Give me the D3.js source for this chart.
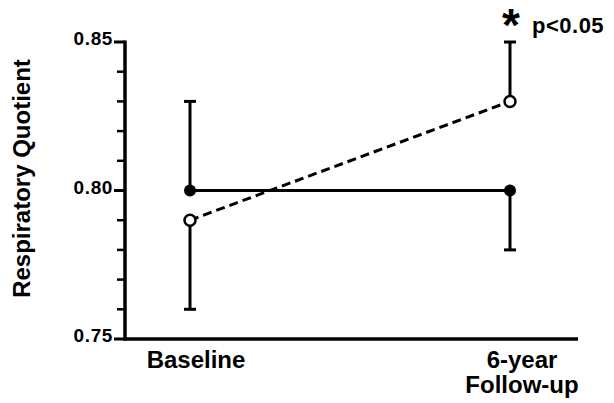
<!DOCTYPE html>
<html>
<head>
<meta charset="utf-8">
<script src="https://cdn.jsdelivr.net/npm/d3@7"></script>
<style>
  body { margin: 0; background: #fff; }
  svg { display: block; font-family: "Liberation Sans", Arial, sans-serif; font-weight: bold; }
</style>
</head>
<body>
<svg id="chart" width="614" height="403"></svg>
<script>
const categories = ["Baseline", "6-year Follow-up"];
const categoryLines = [["Baseline"], ["6-year", "Follow-up"]];

// solid line, filled markers
const groupA = [0.80, 0.80];
const groupAErr = [0.03, 0.02];
const groupADir = [1, -1];

// dashed line, open markers
const groupB = [0.79, 0.83];
const groupBErr = [0.03, 0.02];
const groupBDir = [-1, 1];

const yTicks = [0.75, 0.80, 0.85];
const yMinor = [0.76, 0.77, 0.78, 0.79, 0.81, 0.82, 0.83, 0.84];

const svg = d3.select("#chart");

const x = d3.scalePoint().domain(categories).range([190, 510]);
const y = d3.scaleLinear().domain([0.75, 0.85]).range([339, 42]);

const axisX0 = 125, axisX1 = 578;

// axes
svg.append("line")
  .attr("x1", axisX0).attr("x2", axisX0)
  .attr("y1", y(0.85) - 1.5).attr("y2", y(0.75) + 1.5)
  .attr("stroke", "#000").attr("stroke-width", 3.5);

svg.append("line")
  .attr("x1", axisX0 - 1.5).attr("x2", axisX1)
  .attr("y1", y(0.75)).attr("y2", y(0.75))
  .attr("stroke", "#000").attr("stroke-width", 3.5);

svg.selectAll(".major")
  .data(yTicks)
  .join("line")
  .attr("x1", axisX0 - 11).attr("x2", axisX0)
  .attr("y1", (d) => y(d)).attr("y2", (d) => y(d))
  .attr("stroke", "#000").attr("stroke-width", 3);

svg.selectAll(".minor")
  .data(yMinor)
  .join("line")
  .attr("x1", axisX0 - 8).attr("x2", axisX0)
  .attr("y1", (d) => y(d)).attr("y2", (d) => y(d))
  .attr("stroke", "#000").attr("stroke-width", 2.5);

svg.selectAll(".ylab")
  .data(yTicks)
  .join("text")
  .attr("x", axisX0 - 12)
  .attr("y", (d) => y(d) + 3)
  .attr("text-anchor", "end")
  .attr("font-size", 19)
  .attr("letter-spacing", 0.6)
  .text(d3.format(".2f"));

svg.append("text")
  .attr("transform", `translate(30,${(y(0.85) + y(0.75)) / 2 - 12}) rotate(-90)`)
  .attr("text-anchor", "middle")
  .attr("font-size", 24)
  .text("Respiratory Quotient");

// category labels
categories.forEach((c, i) => {
  const t = svg.append("text")
    .attr("y", 368)
    .attr("text-anchor", "middle")
    .attr("font-size", 24);
  categoryLines[i].forEach((line, j) => {
    t.append("tspan").attr("x", x(c) + (i ? 12 : 6)).attr("dy", j ? 25 : 0).text(line);
  });
});

const capW = 6;

function errorBars(values, errs, dirs) {
  categories.forEach((c, i) => {
    const y0 = y(values[i]);
    const y1 = y(values[i] + dirs[i] * errs[i]);
    svg.append("line")
      .attr("x1", x(c)).attr("x2", x(c))
      .attr("y1", y0).attr("y2", y1)
      .attr("stroke", "#000").attr("stroke-width", 3);
    svg.append("line")
      .attr("x1", x(c) - capW).attr("x2", x(c) + capW)
      .attr("y1", y1).attr("y2", y1)
      .attr("stroke", "#000").attr("stroke-width", 3);
  });
}

errorBars(groupA, groupAErr, groupADir);
errorBars(groupB, groupBErr, groupBDir);

const line = d3.line()
  .x((d, i) => x(categories[i]))
  .y((d) => y(d));

svg.append("path")
  .attr("d", line(groupA))
  .attr("fill", "none").attr("stroke", "#000").attr("stroke-width", 3);

svg.append("path")
  .attr("d", line(groupB))
  .attr("fill", "none").attr("stroke", "#000").attr("stroke-width", 3)
  .attr("stroke-dasharray", "9,5");

svg.selectAll(".ptA")
  .data(groupA)
  .join("circle")
  .attr("cx", (d, i) => x(categories[i]))
  .attr("cy", (d) => y(d))
  .attr("r", 6)
  .attr("fill", "#000");

svg.selectAll(".ptB")
  .data(groupB)
  .join("circle")
  .attr("cx", (d, i) => x(categories[i]))
  .attr("cy", (d) => y(d))
  .attr("r", 5.5)
  .attr("fill", "#fff").attr("stroke", "#000").attr("stroke-width", 2.5);

// significance marker
const topB = groupB[1] + groupBErr[1];
svg.append("text")
  .attr("x", x(categories[1]) + 1)
  .attr("y", y(topB) - 1)
  .attr("text-anchor", "middle")
  .attr("font-size", 46)
  .text("*");

svg.append("text")
  .attr("x", x(categories[1]) + 22)
  .attr("y", 33)
  .attr("font-size", 22)
  .attr("letter-spacing", 0.5)
  .text("p<0.05");
</script>
</body>
</html>
